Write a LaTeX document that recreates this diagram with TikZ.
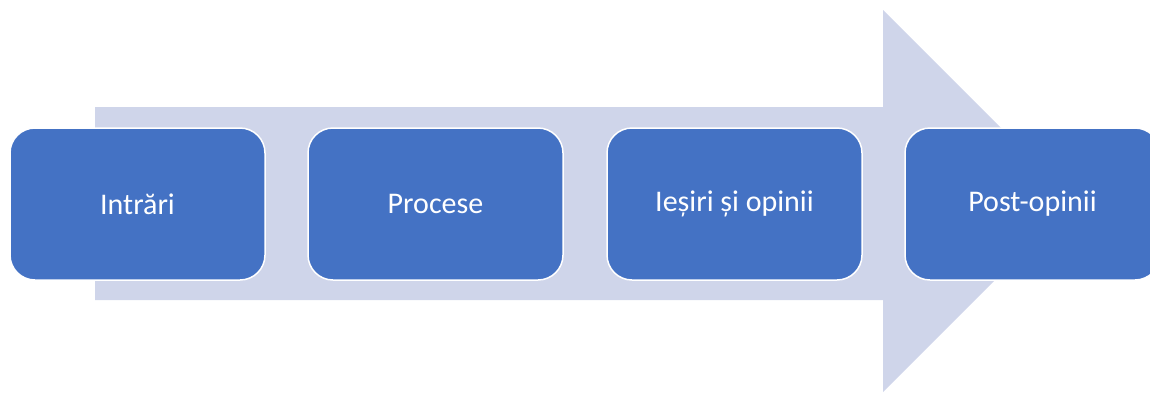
\documentclass[tikz,border=0pt]{standalone}
\usepackage{fontspec}
\setmainfont{Carlito}
\definecolor{boxblue}{HTML}{4472C4}
\definecolor{arrowfill}{HTML}{CFD5EA}
\begin{document}
\begin{tikzpicture}[x=1pt,y=-1pt,
  stagebox/.style={draw=white,line width=1.5pt,fill=boxblue,rounded corners=25pt,
    minimum width=255pt,minimum height=152pt,inner sep=0pt,
    text=white,font=\fontsize{30}{36}\selectfont}]
\useasboundingbox (0,0) rectangle (1150,392);
\fill[arrowfill] (95,107) -- (883,107) -- (883,10) -- (1074,201) -- (883,392) -- (883,300) -- (95,300) -- cycle;
\node[stagebox] (a) at (137.5,204) {Intrări};
\node[stagebox] (b) at (435.5,204) {Procese};
\node[stagebox] (c) at (734.5,204) {Ieșiri și opinii};
\node[stagebox] (d) at (1032.5,204) {Post-opinii};
\end{tikzpicture}
\end{document}
